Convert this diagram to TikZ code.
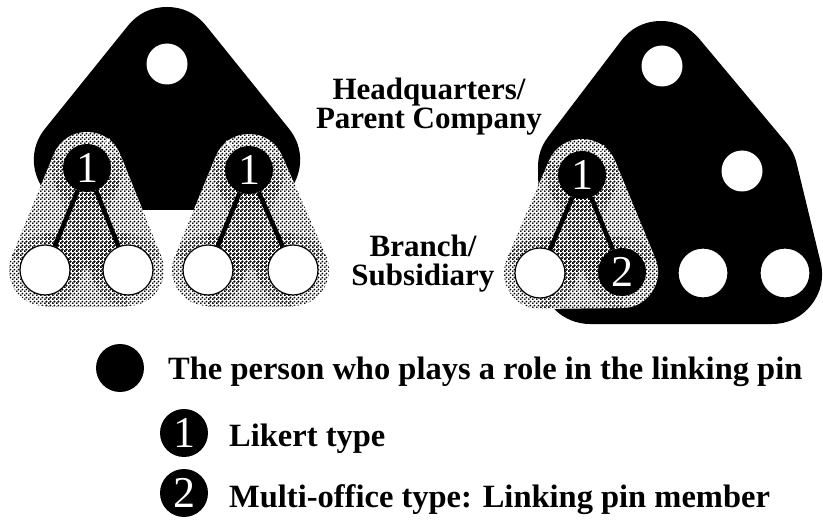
\documentclass[tikz,border=0pt]{standalone}
\usepackage{fontspec}
\setmainfont{Liberation Serif}
\newfontfamily\digitfont{Liberation Serif}
\usetikzlibrary{calc,backgrounds,patterns.meta}

% halftone screen used for the branch groups
\tikzdeclarepattern{
  name=halftone,
  type=uncolored,
  bounding box={(0pt,0pt) and (4pt,4pt)},
  tile size={(4pt,4pt)},
  code={
    \fill (1pt,1pt) circle (1.2pt);
    \fill (3pt,3pt) circle (1.2pt);
  }
}

\tikzset{
  office/.style={circle, fill=white, draw=black, line width=1.2pt, minimum size=50pt, inner sep=0pt},
  head/.style={circle, fill=white, minimum size=41pt, inner sep=0pt},
  pin/.style={circle, fill=black, minimum size=48pt, inner sep=0pt, text=white,
    font=\digitfont\fontsize{44}{44}\selectfont},
  keydot/.style={circle, fill=black, minimum size=48pt, inner sep=0pt},
  link/.style={line width=4.5pt, black},
  slit/.style={line width=1.4pt, white},
  orgblack/.style={fill=black, draw=black, line join=round, line width=100pt},
  grpbase/.style={fill=white, draw=white, line join=round, line width=72pt},
  grp/.style={pattern={halftone}, pattern color=black},
  captxt/.style={font=\bfseries\fontsize{31}{31}\selectfont, inner sep=0pt},
  keytxt/.style={font=\bfseries\fontsize{32.5}{32.5}\selectfont, inner sep=0pt},
}

% rounded hull of three member nodes, screened
\newcommand\branchhull[3]{%
  \filldraw[grpbase] (#1.center) -- (#2.center) -- (#3.center) -- cycle;
  \foreach \p in {#1,#2,#3} \fill[grp] (\p.center) circle (36pt);
  \foreach \p/\q in {#1/#2,#2/#3,#3/#1}
    \fill[grp] ($(\p)!36pt!90:(\q)$) -- ($(\q)!36pt!-90:(\p)$)
               -- ($(\q)!36pt!90:(\p)$) -- ($(\p)!36pt!-90:(\q)$) -- cycle;
  \fill[grp] (#1.center) -- (#2.center) -- (#3.center) -- cycle;
}

\begin{document}
\begin{tikzpicture}[x=1pt, y=-1pt]
\useasboundingbox (0,0) rectangle (823,524);

% ---- left organisation (Likert type) ----
\node[head] (hqL) at (167,64) {};
\node[pin] (aL) at (87,168) {1};
\node[pin] (bL) at (249,170) {1};
\node[office] (a1) at (45,270) {};
\node[office] (a2) at (128,270) {};
\node[office] (b1) at (208,270) {};
\node[office] (b2) at (293,270) {};

% ---- right organisation (multi-office type) ----
\node[head] (hqR) at (662,66) {};
\node[head] (mR) at (742,171) {};
\node[pin] (cR) at (582,175) {1};
\node[office] (c1) at (540,273) {};
\node[pin] (c2) at (622,272) {2};
\node[office] (r3) at (703,273) {};
\node[office] (r4) at (785,273) {};

\begin{scope}[on background layer]
  % headquarters blocks
  \filldraw[orgblack] (167,57) -- (84,160) -- (250,160) -- cycle;
  \filldraw[orgblack] (661,71) -- (748,175) -- (772,274) -- (590,274) -- (588,167) -- cycle;
  % branch groups
  \branchhull{aL}{a1}{a2}
  \branchhull{bL}{b1}{b2}
  \branchhull{cR}{c1}{c2}
\end{scope}

% links inside the branch groups
\draw[link] (aL) -- (a1);
\draw[link] (aL) -- (a2);
\draw[link] (bL) -- (b1);
\draw[link] (bL) -- (b2);
\draw[link] (cR) -- (c1);
\draw[link] (cR) -- (c2);

% thin gaps where the groups meet the headquarters block
\draw[slit] ($(aL)!25pt!(hqL)$) -- ($(aL)!37pt!(hqL)$);
\draw[slit] ($(bL)!25pt!(hqL)$) -- ($(bL)!37pt!(hqL)$);
\draw[slit] ($(cR)!25pt!(hqR)$) -- ($(cR)!37pt!(hqR)$);

% captions
\node[captxt, anchor=base] (hq1) at (429,100) {Headquarters/};
\node[captxt, anchor=base] (hq2) at (429,129) {Parent Company};
\node[captxt, anchor=base] (br1) at (423,257) {Branch/};
\node[captxt, anchor=base] (br2) at (423,286) {Subsidiary};

% key
\node[keydot] (k0) at (120,368) {};
\node[pin] (k1) at (184,433) {1};
\node[pin] (k2) at (184,493) {2};
\node[keytxt, anchor=base west] (t0) at (168,379) {The person who plays a role in the linking pin};
\node[keytxt, anchor=base west] (t1) at (229,446) {Likert type};
\node[keytxt, anchor=base west] (t2) at (229,507) {Multi-office type: Linking pin member};
\end{tikzpicture}
\end{document}
